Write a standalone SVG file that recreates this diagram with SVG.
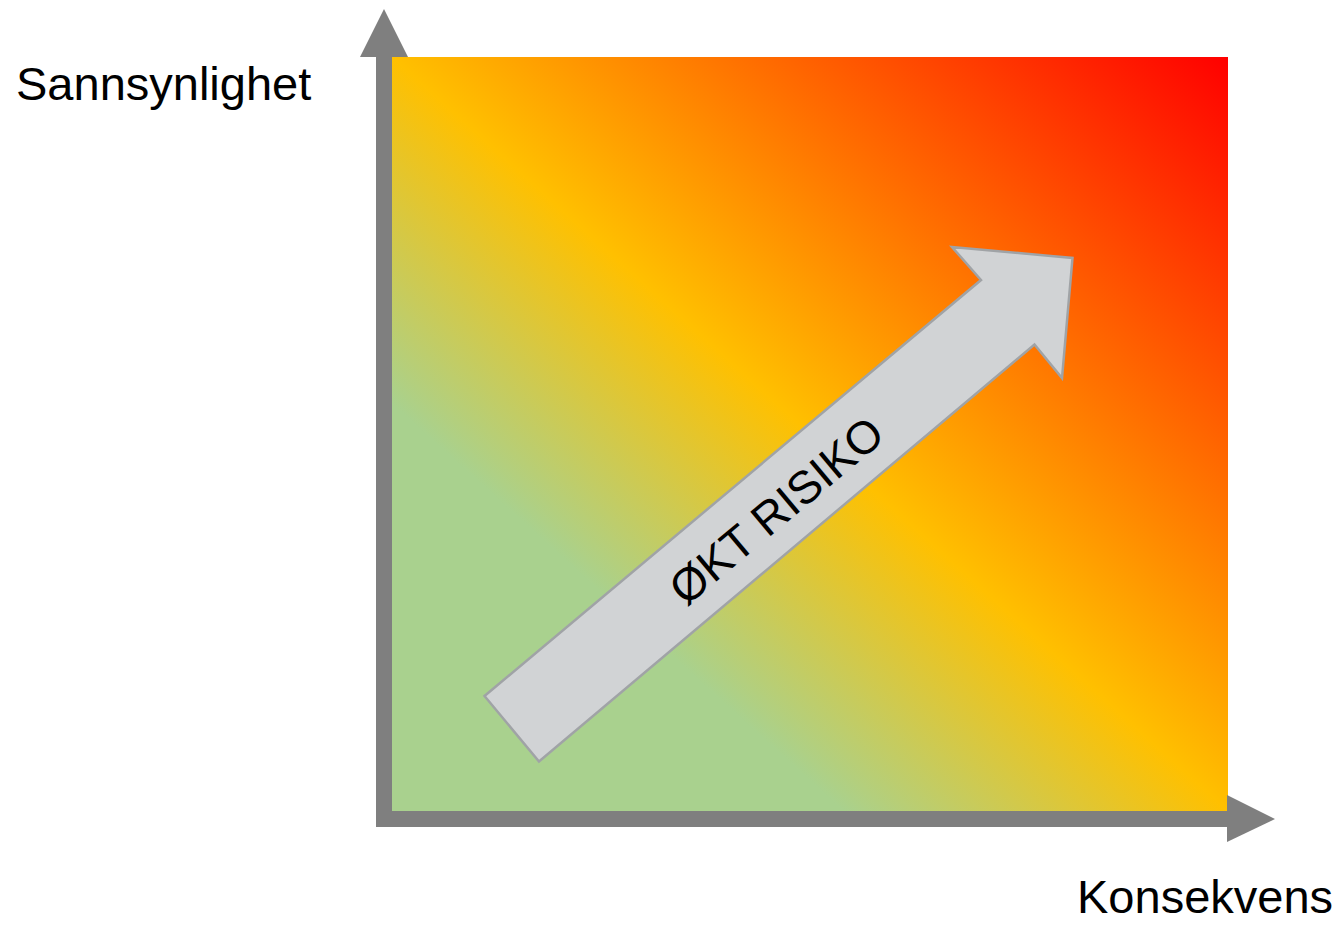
<svg xmlns="http://www.w3.org/2000/svg" width="1342" height="926" viewBox="0 0 1342 926">
<style>
.axis{fill:#7f7f7f}
.lbl{font-family:"Liberation Sans",Arial,sans-serif;font-size:47px;fill:#000}
.risk{fill:#d1d3d5;stroke:#a0a3a6;stroke-width:2.5;stroke-linejoin:miter}
</style>
<defs>
<linearGradient id="heat" x1="0" y1="1" x2="1" y2="0">
<stop offset="0" stop-color="#a9d18e"/>
<stop offset="0.27" stop-color="#a9d18e"/>
<stop offset="0.5" stop-color="#ffc000"/>
<stop offset="1" stop-color="#ff0000"/>
</linearGradient>
</defs>
<g id="matrix">
<rect x="392" y="57" width="836" height="754" fill="url(#heat)"/>
</g>
<g id="axes">
<rect class="axis" x="376" y="55" width="16" height="772"/>
<polygon class="axis" points="360,57 384,9 408,57"/>
<rect class="axis" x="376" y="811" width="852" height="16"/>
<polygon class="axis" points="1227,795 1275,819 1227,842"/>
</g>
<g id="arrow">
<polygon class="risk" points="484.5,696 981,280 952,247 1072.5,258 1062,378 1034.5,344.5 539,761.5"/>
<text class="lbl" x="776" y="510" dy="0.36em" text-anchor="middle" font-size="46" transform="rotate(-40 776 510)" style="font-size:46px">ØKT RISIKO</text>
</g>
<g id="labels">
<text class="lbl" x="16" y="100">Sannsynlighet</text>
<text class="lbl" x="1077" y="913">Konsekvens</text>
</g>
</svg>
